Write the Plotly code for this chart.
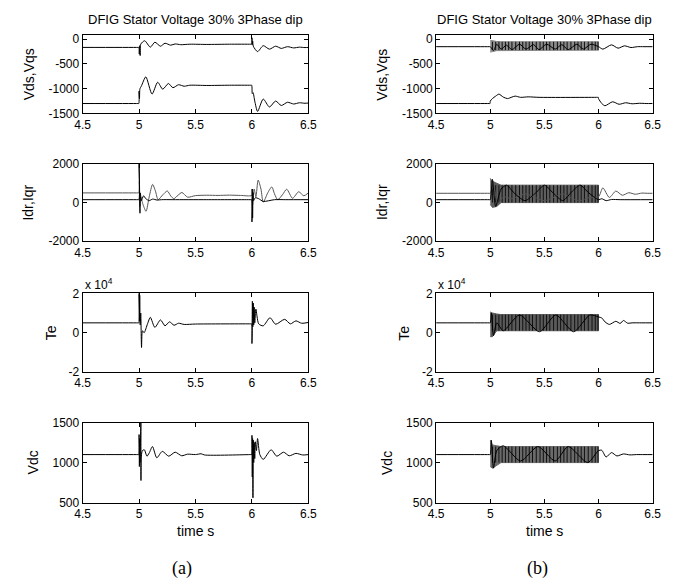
import plotly.graph_objects as go

W, H = 687, 588
FONT = "Liberation Sans"

# ---------------- shared axis settings ----------------
x_ticks = [4.5, 5, 5.5, 6, 6.5]
x_ticktext = ["4.5", "5", "5.5", "6", "6.5"]

y_ticks = [
    [-1500, -1000, -500, 0],
    [-2000, 0, 2000],
    [-2, 0, 2],
    [500, 1000, 1500],
]
y_ticktext = [
    ["-1500", "-1000", "-500", "0"],
    ["-2000", "0", "2000"],
    ["-2", "0", "2"],
    ["500", "1000", "1500"],
]
y_ranges = [[-1500, 80], [-2000, 2000], [-2, 2], [500, 1500]]
y_titles = ["Vds,Vqs", "Idr,Iqr", "Te", "Vdc"]
title_text = "DFIG Stator Voltage 30% 3Phase dip"

# ---------------- (a) crowbar case ----------------
vds_a_t = [4.5, 4.99, 4.998, 5.002, 5.006, 5.010, 5.015, 5.05, 5.10, 5.14, 5.19, 5.23, 5.28,
           5.32, 5.37, 5.45, 5.6, 5.8, 5.99, 5.998, 6.0, 6.003, 6.007, 6.012, 6.05, 6.10,
           6.155, 6.21, 6.26, 6.315, 6.37, 6.42, 6.47, 6.5]
vds_a_v = [-165, -165, -165, -300, -130, -330, -100, -30, -160, -60, -140, -80, -120,
           -95, -110, -100, -105, -100, -100, -100, 30, -110, -40, -140, -250, -130,
           -200, -140, -185, -150, -175, -160, -168, -165]

vqs_a_t = [4.5, 4.99, 4.998, 5.0, 5.004, 5.008, 5.02, 5.06, 5.115, 5.165, 5.21, 5.26, 5.30,
           5.35, 5.40, 5.45, 5.6, 5.8, 5.99, 5.998, 6.003, 6.01, 6.025, 6.05, 6.10, 6.155,
           6.21, 6.26, 6.315, 6.37, 6.42, 6.47, 6.5]
vqs_a_v = [-1300, -1300, -1300, -1050, -1200, -1000, -950, -760, -1110, -870, -1010, -895,
           -980, -920, -950, -930, -935, -930, -930, -930, -1100, -1080, -1250, -1460,
           -1210, -1370, -1250, -1340, -1275, -1310, -1285, -1295, -1290]

idr_a_t = [4.5, 4.99, 4.999, 5.0, 5.004, 5.008, 5.012, 5.02, 5.04, 5.06, 5.09, 5.12, 5.16,
           5.2, 5.3, 5.6, 5.99, 5.998, 6.0, 6.003, 6.006, 6.01, 6.015, 6.03, 6.06, 6.1,
           6.2, 6.3, 6.5]
idr_a_v = [150, 150, 150, 2000, 700, -550, 500, 100, 350, 200, 100, 180, 130,
           150, 150, 150, 150, 150, -1000, 700, -800, 500, 100, 250, 200, 60,
           150, 150, 150]

iqr_a_t = [4.5, 4.99, 4.998, 5.003, 5.008, 5.015, 5.035, 5.062, 5.09, 5.12, 5.145, 5.169,
           5.21, 5.25, 5.28, 5.308, 5.345, 5.38, 5.43, 5.5, 5.6, 5.7, 5.8, 5.9,
           5.998, 6.002, 6.006, 6.012, 6.02, 6.035, 6.055, 6.08, 6.10, 6.14, 6.176,
           6.20, 6.228, 6.27, 6.308, 6.36, 6.414, 6.46, 6.5]
iqr_a_v = [500, 500, 500, 1100, -200, 300, -100, -450, 300, 940, 600, 150,
           400, 600, 350, 200, 380, 520, 280, 360, 380, 370, 385, 370,
           370, 700, -100, 400, 700, 300, 1160, 700, 20, 500, 810,
           450, 150, 400, 690, 220, 560, 350, 500]

te_a_t = [4.5, 4.99, 4.998, 5.0, 5.003, 5.006, 5.01, 5.015, 5.022, 5.03, 5.045, 5.075, 5.10,
          5.14, 5.19, 5.23, 5.27, 5.31, 5.35, 5.4, 5.5, 5.99, 5.998, 6.0, 6.004, 6.008,
          6.012, 6.016, 6.02, 6.025, 6.035, 6.06, 6.10, 6.16, 6.21, 6.29, 6.34,
          6.39, 6.44, 6.5]
te_a_v = [0.5, 0.5, 0.5, 2.0, 0.6, 1.9, 0.4, 1.0, -0.75, 0.1, 0.0, 0.45, 0.78,
          0.27, 0.65, 0.35, 0.55, 0.38, 0.48, 0.42, 0.44, 0.45, 0.45, -0.55, 1.6, 0.3,
          1.5, 0.4, 1.3, 0.5, 1.2, 0.45, 0.35, 0.76, 0.43, 0.68, 0.45, 0.6,
          0.48, 0.52]

vdc_a_t = [4.5, 4.99, 4.998, 5.0, 5.003, 5.006, 5.009, 5.016, 5.017, 5.02, 5.03, 5.047, 5.07,
           5.09, 5.119, 5.157, 5.206, 5.263, 5.32, 5.378, 5.43, 5.5, 5.55, 5.58, 5.99, 5.998,
           6.0, 6.003, 6.006, 6.009, 6.012, 6.016, 6.02, 6.025, 6.03, 6.04, 6.05,
           6.07, 6.1, 6.17, 6.22, 6.28, 6.33, 6.39, 6.45, 6.5]
vdc_a_v = [1100, 1100, 1100, 1350, 950, 1300, 1000, 1500, 776, 1080, 1150, 1160, 1080,
           1120, 1200, 1060, 1140, 1080, 1130, 1085, 1105, 1100, 1110, 1095, 1100, 1100,
           1340, 820, 1300, 560, 1280, 1000, 1250, 1050, 1260, 1150, 1300,
           1100, 1040, 1160, 1080, 1130, 1085, 1115, 1095, 1100]

# ---------------- (b) converter-controlled case ----------------
vds_b_t = [4.5, 4.99, 5.0, 5.03, 5.06, 5.1, 5.15, 5.2, 5.27, 5.33, 5.4, 5.45, 5.52, 5.6,
           5.66, 5.72, 5.8, 5.86, 5.93, 6.0, 6.04, 6.12, 6.18, 6.24, 6.3, 6.36, 6.42, 6.5]
vds_b_v = [-150, -150, -150, -230, -100, -200, -120, -210, -100, -200, -110, -210, -100,
           -200, -110, -210, -100, -200, -100, -150, -200, -113, -180, -133, -167, -150,
           -150, -150]

vqs_b_t = [4.5, 4.99, 4.998, 5.0, 5.02, 5.05, 5.08, 5.12, 5.16, 5.2, 5.23, 5.28, 5.35,
           5.45, 5.99, 5.998, 6.0, 6.03, 6.06, 6.13, 6.19, 6.25, 6.31, 6.38, 6.44, 6.5]
vqs_b_v = [-1300, -1300, -1300, -1250, -1200, -1150, -1110, -1170, -1200, -1170, -1150,
           -1175, -1165, -1175, -1175, -1175, -1200, -1300, -1345, -1265, -1315, -1285,
           -1305, -1295, -1300, -1300]

idr_b_t = [4.5, 4.99, 5.0, 5.02, 5.05, 5.1, 5.15, 5.22, 5.32, 5.42, 5.5, 5.58, 5.67, 5.76,
           5.83, 5.91, 6.0, 6.03, 6.07, 6.12, 6.2, 6.5]
idr_b_v = [150, 150, 150, 1200, -200, 700, 900, 500, 100, 500, 900, 500, 100, 600,
           900, 500, 150, 200, 100, 160, 150, 150]

iqr_b_t = [4.5, 4.99, 5.0, 5.03, 5.07, 5.12, 5.2, 5.32, 5.42, 5.5, 5.58, 5.67, 5.76, 5.83,
           5.91, 6.0, 6.04, 6.10, 6.16, 6.22, 6.28, 6.34, 6.4, 6.45, 6.5]
iqr_b_v = [480, 480, 480, 900, -100, 300, 200, 450, 250, 100, 250, 450, 200, 100,
           250, 300, 760, 265, 595, 380, 510, 430, 490, 480, 480]

te_b_t = [4.5, 4.99, 5.0, 5.01, 5.03, 5.06, 5.12, 5.27, 5.455, 5.605, 5.77, 5.92, 6.0,
          6.03, 6.06, 6.1, 6.16, 6.2, 6.23, 6.27, 6.31, 6.4, 6.5]
te_b_v = [0.5, 0.5, 0.5, 1.0, -0.15, 0.5, 0.1, 0.9, 0.05, 0.9, 0.05, 0.9, 0.8,
          0.75, 0.55, 0.42, 0.58, 0.47, 0.62, 0.48, 0.5, 0.5, 0.5]

vdc_b_t = [4.5, 4.99, 5.0, 5.01, 5.03, 5.06, 5.12, 5.28, 5.44, 5.6, 5.72, 5.9, 6.0,
           6.03, 6.07, 6.12, 6.17, 6.23, 6.29, 6.35, 6.42, 6.5]
vdc_b_v = [1100, 1100, 1100, 1280, 930, 1150, 1210, 1020, 1200, 1020, 1200, 1000, 1150,
           1154, 1070, 1125, 1083, 1108, 1096, 1100, 1100, 1100]

# envelopes of the fast switching ripple during the dip (5 s - 6 s)
band_t = [5.0, 5.02, 5.06, 5.1, 6.0]
band_hi = [
    [-20, -30, -45, -50, -50],
    [1250, 1100, 1000, 900, 900],
    [1.05, 1.0, 0.95, 0.92, 0.92],
    [1280, 1220, 1210, 1200, 1200],
]
band_lo = [
    [-260, -250, -230, -220, -220],
    [-100, -250, -200, 0, 0],
    [-0.2, -0.2, 0.1, 0.1, 0.1],
    [950, 930, 960, 1000, 1000],
]
band_fill = ["#8a8a8a", "#5e5e5e", "#5a5a5a", "#6a6a6a"]
# instants where the ripple strokes show up as dark vertical lines
stroke_t = [5.02, 5.05, 5.08, 5.11, 5.14, 5.17, 5.20, 5.235, 5.27, 5.30, 5.33, 5.36,
            5.39, 5.425, 5.46, 5.49, 5.52, 5.55, 5.585, 5.62, 5.65, 5.68, 5.71, 5.745,
            5.78, 5.81, 5.84, 5.87, 5.905, 5.94, 5.97, 5.995]

# ---------------- layout geometry (pixels) ----------------
col_px = [(76.5, 308), (439, 661)]
row_px = [(29, 109), (160.7, 240), (293.3, 374), (425.7, 507.7)]
ytitle_offset = [55, 56, 33, 51]
tag_x = [178, 543]


def fx(p):
    return p / W


def fy(p):
    return 1 - p / H


fig = go.Figure()
layout = dict(
    width=W, height=H,
    margin=dict(l=0, r=0, t=0, b=0),
    paper_bgcolor="white", plot_bgcolor="white",
    showlegend=False,
    font=dict(family=FONT, size=12, color="black"),
)
annotations = []


def ax_id(col, row):
    return col * 4 + row + 1


for col in range(2):
    x0, x1 = col_px[col]
    for row in range(4):
        k = ax_id(col, row)
        y0, y1 = row_px[row]
        sfx = "" if k == 1 else str(k)
        layout["xaxis" + sfx] = dict(
            domain=[fx(x0), fx(x1)], anchor="y" + sfx, range=[4.5, 6.5],
            tickvals=x_ticks, ticktext=x_ticktext, ticks="inside", ticklen=4,
            tickcolor="black", showline=True, linecolor="black", linewidth=1,
            mirror="ticks", showgrid=False, zeroline=False,
            tickfont=dict(family=FONT, size=12, color="black"),
        )
        layout["yaxis" + sfx] = dict(
            domain=[fy(y1), fy(y0)], anchor="x" + sfx, range=y_ranges[row],
            tickvals=y_ticks[row], ticktext=y_ticktext[row], ticks="inside", ticklen=4,
            tickcolor="black", showline=True, linecolor="black", linewidth=1,
            mirror="ticks", showgrid=False, zeroline=False,
            tickfont=dict(family=FONT, size=12, color="black"),
        )
        annotations.append(dict(
            text=y_titles[row], x=fx(x0 - ytitle_offset[row]), y=fy((y0 + y1) / 2),
            xref="paper", yref="paper", textangle=-90, showarrow=False,
            xanchor="center", yanchor="middle", font=dict(family=FONT, size=14),
        ))
    # column title, exponent label, x label, panel tag
    annotations.append(dict(
        text=title_text, x=fx((x0 + x1) / 2), y=fy(13), xref="paper", yref="paper",
        showarrow=False, xanchor="center", yanchor="middle", font=dict(family=FONT, size=13),
    ))
    annotations.append(dict(
        text="x 10<sup>4</sup>", x=fx(x0), y=fy(284), xref="paper", yref="paper",
        showarrow=False, xanchor="left", yanchor="middle", font=dict(family=FONT, size=12),
    ))
    annotations.append(dict(
        text="time s", x=fx((x0 + x1) / 2), y=fy(537), xref="paper", yref="paper",
        showarrow=False, xanchor="center", yanchor="middle", font=dict(family=FONT, size=14),
    ))
    annotations.append(dict(
        text="(a)" if col == 0 else "(b)", x=fx(tag_x[col]), y=fy(575),
        xref="paper", yref="paper", showarrow=False, xanchor="center", yanchor="middle",
        font=dict(family="Liberation Serif", size=18),
    ))

layout["annotations"] = annotations
fig.update_layout(**layout)


def add_line(col, row, t, v, color="black", width=1, shape="spline"):
    k = ax_id(col, row)
    sfx = "" if k == 1 else str(k)
    line = dict(color=color, width=width, shape=shape)
    if shape == "spline":
        line["smoothing"] = 0.7
    fig.add_trace(go.Scatter(
        x=t, y=v, mode="lines", xaxis="x" + sfx, yaxis="y" + sfx,
        line=line, hoverinfo="skip",
    ))


# (a)
add_line(0, 0, vds_a_t, vds_a_v)
add_line(0, 0, vqs_a_t, vqs_a_v)
add_line(0, 1, iqr_a_t, iqr_a_v, color="#555555")
add_line(0, 1, idr_a_t, idr_a_v)
add_line(0, 2, te_a_t, te_a_v)
add_line(0, 3, vdc_a_t, vdc_a_v)

# (b): ripple band first, then strokes, then the traces
for row in range(4):
    sfx = str(ax_id(1, row))
    fig.add_trace(go.Scatter(
        x=band_t + band_t[::-1], y=band_hi[row] + band_lo[row][::-1],
        mode="lines", fill="toself", fillcolor=band_fill[row],
        line=dict(color=band_fill[row], width=1), xaxis="x" + sfx, yaxis="y" + sfx,
        hoverinfo="skip",
    ))
    sx, sy = [], []
    for t in stroke_t:
        sx += [t, t, None]
        sy += [band_lo[row][-1], band_hi[row][-1], None]
    fig.add_trace(go.Scatter(
        x=sx, y=sy, mode="lines", line=dict(color="#111111", width=1),
        xaxis="x" + sfx, yaxis="y" + sfx, hoverinfo="skip",
    ))

add_line(1, 0, vds_b_t, vds_b_v)
add_line(1, 0, vqs_b_t, vqs_b_v)
add_line(1, 1, iqr_b_t, iqr_b_v, color="#555555")
add_line(1, 1, idr_b_t, idr_b_v)
add_line(1, 2, te_b_t, te_b_v)
add_line(1, 3, vdc_b_t, vdc_b_v)

fig.write_html("out.html")
